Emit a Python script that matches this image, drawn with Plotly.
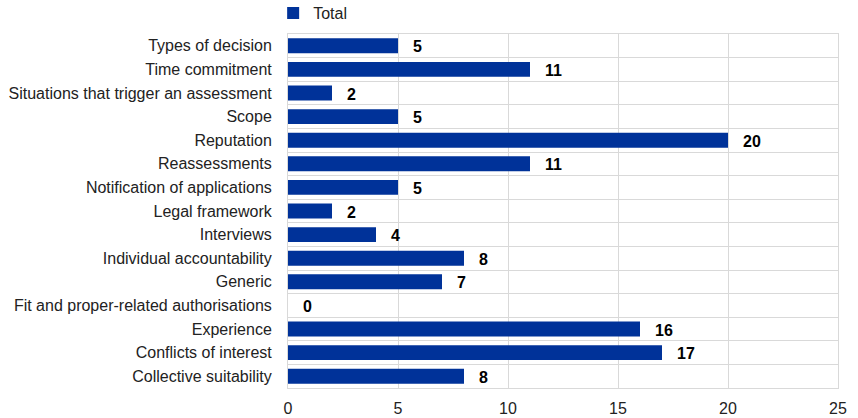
import plotly.graph_objects as go

categories = [
    "Types of decision",
    "Time commitment",
    "Situations that trigger an assessment",
    "Scope",
    "Reputation",
    "Reassessments",
    "Notification of applications",
    "Legal framework",
    "Interviews",
    "Individual accountability",
    "Generic",
    "Fit and proper-related authorisations",
    "Experience",
    "Conflicts of interest",
    "Collective suitability",
]
values = [5, 11, 2, 5, 20, 11, 5, 2, 4, 8, 7, 0, 16, 17, 8]
x_ticks = [0, 5, 10, 15, 20, 25]

n = len(categories)
ypos = [n - 1 - i for i in range(n)]

BLUE = "#003299"
GRID = "#d9d9d9"
FONT = "Liberation Sans, Arial, sans-serif"
TXT = "#222222"

fig = go.Figure()
fig.add_trace(go.Bar(
    x=values, y=ypos, orientation="h", name="Total",
    marker=dict(color=BLUE, line=dict(width=0)),
    width=0.63, showlegend=True,
))

for v, y in zip(values, ypos):
    fig.add_annotation(x=v, y=y, text=f"<b>{v}</b>", showarrow=False,
                       xanchor="left", xshift=13, yshift=-1,
                       font=dict(family=FONT, size=16, color="#000000"))

fig.update_layout(
    width=858, height=418,
    margin=dict(l=288, r=20, t=34, b=30, autoexpand=False),
    paper_bgcolor="white", plot_bgcolor="white",
    font=dict(family=FONT, size=16, color=TXT),
    legend=dict(orientation="h", x=-0.027, y=1 - 13 / 418, xanchor="left", yanchor="middle",
                yref="container", font=dict(size=16, color=TXT), itemwidth=30),
    bargap=0.37,
)
fig.update_xaxes(range=[0, 25], tickvals=x_ticks, showgrid=True, gridcolor=GRID,
                 gridwidth=1, zeroline=False, ticks="", showline=True, linecolor=GRID,
                 mirror=True, automargin=False, ticklabelstandoff=6,
                 tickfont=dict(size=16, color=TXT))
fig.update_yaxes(range=[-0.5, n - 0.5], tickvals=ypos, ticktext=categories,
                 showgrid=False, zeroline=False, ticks="", showline=True,
                 linecolor=GRID, mirror=True, automargin=False, ticklabelstandoff=12,
                 minor=dict(showgrid=True, gridcolor=GRID, tick0=0.5, dtick=1),
                 tickfont=dict(size=16, color=TXT))

fig.write_html("out.html", config={"displayModeBar": False},
               post_script="document.body.style.margin='0';")
